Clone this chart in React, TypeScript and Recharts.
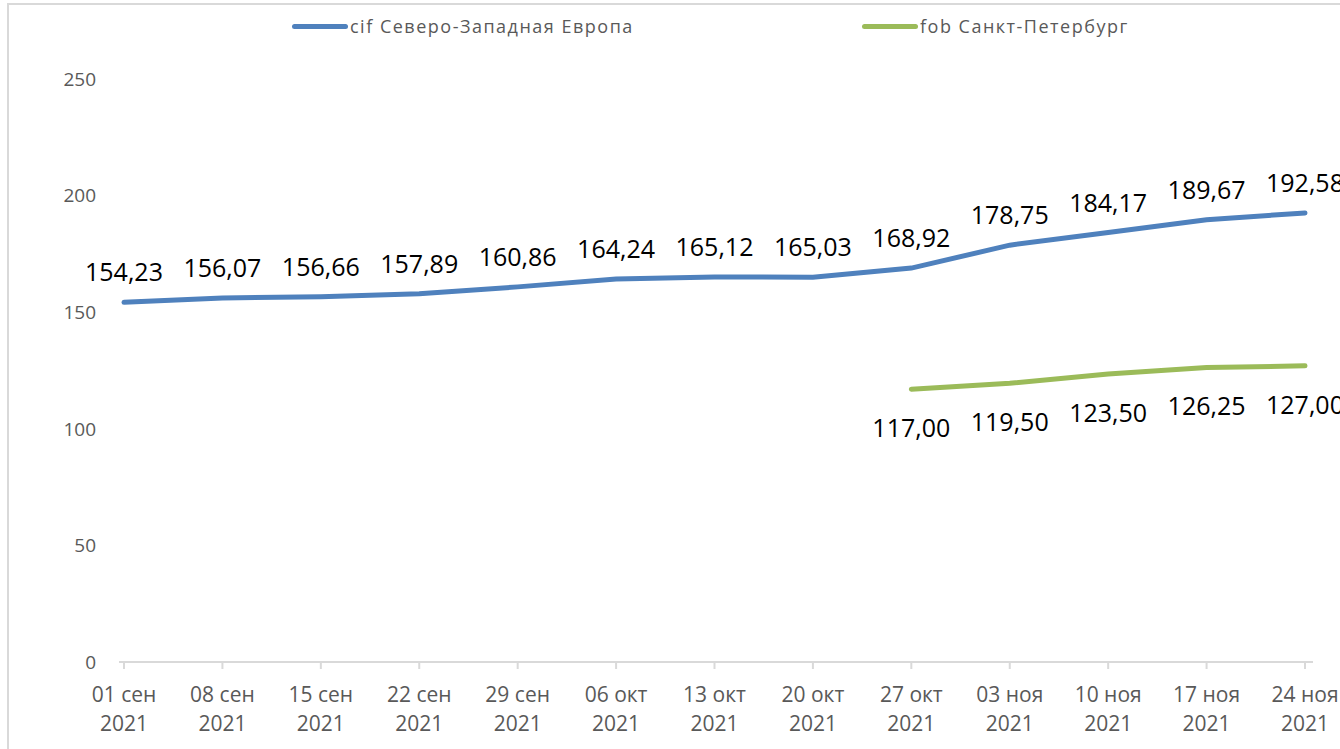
import React from 'react';
import { LineChart, Line, XAxis, YAxis, Legend, LabelList } from 'recharts';

const dates = ['01 сен', '08 сен', '15 сен', '22 сен', '29 сен', '06 окт', '13 окт', '20 окт', '27 окт', '03 ноя', '10 ноя', '17 ноя', '24 ноя'];
const year = '2021';
const cifNWEurope = [154.23, 156.07, 156.66, 157.89, 160.86, 164.24, 165.12, 165.03, 168.92, 178.75, 184.17, 189.67, 192.58];
const fobSPb = [null, null, null, null, null, null, null, null, 117.0, 119.5, 123.5, 126.25, 127.0];
const yTicks = [0, 50, 100, 150, 200, 250];

const CIF_NAME = 'cif Северо-Западная Европа';
const FOB_NAME = 'fob Санкт-Петербург';
const BLUE = '#4F81BD';
const GREEN = '#9BBB59';
const FONT = '"Open Sans", sans-serif';

const data = dates.map((d, i) => ({
  date: d,
  cif: cifNWEurope[i],
  fob: fobSPb[i],
}));

const fmt = (v: any) => (v == null ? '' : Number(v).toFixed(2).replace('.', ','));

function DateTick({ x, y, payload }: any) {
  return (
    <g transform={`translate(${x},${y})`}>
      <text textAnchor="middle" fill="#595959" fontSize={21} fontFamily={FONT}>
        <tspan x={0} dy={31}>{payload.value}</tspan>
        <tspan x={0} dy={29}>{year}</tspan>
      </text>
    </g>
  );
}

function TopLegend() {
  const items = [
    { name: CIF_NAME, color: BLUE, left: 292 },
    { name: FOB_NAME, color: GREEN, left: 862 },
  ];
  return (
    <div style={{ position: 'relative', width: 1340, height: 30 }}>
      {items.map((it) => (
        <div
          key={it.name}
          style={{ position: 'absolute', left: it.left, top: 0, display: 'flex', alignItems: 'center', whiteSpace: 'nowrap' }}
        >
          <span style={{ display: 'inline-block', width: 56, height: 5, borderRadius: 3, background: it.color, marginRight: 2 }} />
          <span style={{ fontFamily: FONT, fontSize: 18, letterSpacing: 1.5, color: '#595959' }}>{it.name}</span>
        </div>
      ))}
    </div>
  );
}

export default function App() {
  return (
    <div style={{ position: 'absolute', left: 0, top: 0, width: 1340, height: 749, overflow: 'hidden', background: '#fff' }}>
      <div
        style={{
          position: 'absolute',
          left: 7,
          top: 3,
          width: 1400,
          height: 800,
          borderLeft: '2px solid #d9d9d9',
          borderTop: '2px solid #d9d9d9',
        }}
      />
      <div style={{ position: 'absolute', left: 0, top: 0 }}>
        <LineChart width={1340} height={749} data={data} margin={{ top: 79, right: 27, bottom: 7, left: 0 }}>
          <XAxis
            dataKey="date"
            height={80}
            padding={{ left: 5, right: 8 }}
            axisLine={{ stroke: '#d9d9d9', strokeWidth: 2 }}
            tickLine={{ stroke: '#d9d9d9', strokeWidth: 2 }}
            tickSize={7}
            tick={<DateTick />}
            interval={0}
          />
          <YAxis
            width={119}
            domain={[0, 250]}
            ticks={yTicks}
            axisLine={false}
            tickLine={false}
            tickSize={0}
            tickMargin={23}
            tick={{ fill: '#595959', fontSize: 19, fontFamily: FONT }}
          />
          <Legend
            layout="vertical"
            align="center"
            verticalAlign="middle"
            wrapperStyle={{ top: 14, left: 0, width: 1340 }}
            content={<TopLegend />}
          />
          <Line
            type="linear"
            dataKey="cif"
            name={CIF_NAME}
            stroke={BLUE}
            strokeWidth={5}
            strokeLinecap="round"
            dot={false}
            isAnimationActive={false}
          >
            <LabelList dataKey="cif" position="top" offset={21} formatter={fmt} fill="#000" fontSize={25} fontFamily={FONT} />
          </Line>
          <Line
            type="linear"
            dataKey="fob"
            name={FOB_NAME}
            stroke={GREEN}
            strokeWidth={5}
            strokeLinecap="round"
            dot={false}
            isAnimationActive={false}
          >
            <LabelList dataKey="fob" position="bottom" offset={30} formatter={fmt} fill="#000" fontSize={25} fontFamily={FONT} />
          </Line>
        </LineChart>
      </div>
    </div>
  );
}
